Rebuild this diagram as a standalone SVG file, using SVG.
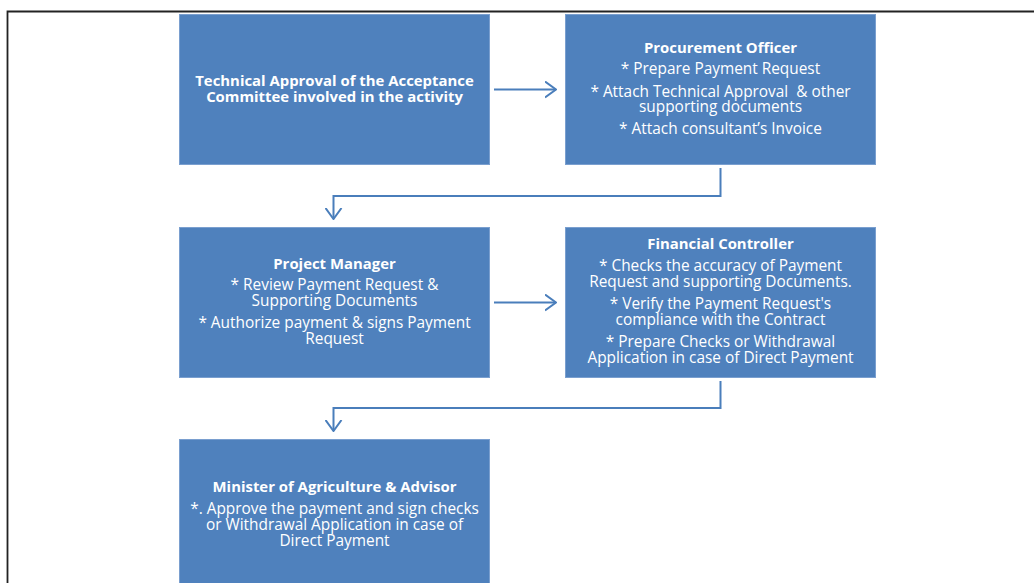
<svg xmlns="http://www.w3.org/2000/svg" width="1034" height="583" viewBox="0 0 1034 583">
<style>
.box{fill:#4f81bd;stroke:#7a9fcf;stroke-width:1}
text{font-family:"Open Sans","Liberation Sans",Arial,sans-serif;font-size:15.4px;fill:#ffffff;text-anchor:middle}
.b{font-weight:bold;font-size:14.9px}
.conn{fill:none;stroke:#4a7ebb;stroke-width:2}
</style>
<defs>
<marker id="arr" viewBox="0 0 12 18" refX="11" refY="9" markerWidth="12" markerHeight="18" markerUnits="userSpaceOnUse" orient="auto">
<path d="M0,1 L11,9 L0,17" fill="none" stroke="#4a7ebb" stroke-width="2"/>
</marker>
</defs>
<rect x="0" y="0" width="1034" height="583" fill="#ffffff"/>
<path d="M7.5,583 V11.5 H1034" fill="none" stroke="#222" stroke-width="1.8"/>
<g id="connectors">
<path class="conn" d="M494,89.5 H556" marker-end="url(#arr)"/>
<path class="conn" d="M720.5,168 V196 H333.5 V219" marker-end="url(#arr)"/>
<path class="conn" d="M494,302.5 H556" marker-end="url(#arr)"/>
<path class="conn" d="M720.5,381 V408 H333.5 V431" marker-end="url(#arr)"/>
</g>
<g id="node-technical">
<rect class="box" x="179.5" y="14.5" width="310" height="150"/>
<text class="b"><tspan x="334.5" y="86">Technical Approval of the Acceptance</tspan><tspan x="334.5" y="102">Committee involved in the activity</tspan></text>
</g>
<g id="node-procurement">
<rect class="box" x="565.5" y="14.5" width="310" height="150"/>
<text class="b" x="720.5" y="52.5">Procurement Officer</text>
<text xml:space="preserve"><tspan x="720.5" y="74">* Prepare Payment Request</tspan><tspan x="720.5" y="96.5">* Attach Technical Approval  &amp; other</tspan><tspan x="720.5" y="112">supporting documents</tspan><tspan x="720.5" y="134">* Attach consultant’s Invoice</tspan></text>
</g>
<g id="node-project-manager">
<rect class="box" x="179.5" y="227.5" width="310" height="150"/>
<text class="b" x="334.5" y="268.5">Project Manager</text>
<text><tspan x="334.5" y="290">* Review Payment Request &amp;</tspan><tspan x="334.5" y="306">Supporting Documents</tspan><tspan x="334.5" y="327.5">* Authorize payment &amp; signs Payment</tspan><tspan x="334.5" y="343.5">Request</tspan></text>
</g>
<g id="node-financial">
<rect class="box" x="565.5" y="227.5" width="310" height="150"/>
<text class="b" x="720.5" y="248.5">Financial Controller</text>
<text><tspan x="720.5" y="270.5">* Checks the accuracy of Payment</tspan><tspan x="720.5" y="287">Request and supporting Documents.</tspan><tspan x="720.5" y="308.5">* Verify the Payment Request's</tspan><tspan x="720.5" y="324.5">compliance with the Contract</tspan><tspan x="720.5" y="346.5">* Prepare Checks or Withdrawal</tspan><tspan x="720.5" y="362.5">Application in case of Direct Payment</tspan></text>
</g>
<g id="node-minister">
<rect class="box" x="179.5" y="439.5" width="310" height="160"/>
<text class="b" x="334.5" y="491.5">Minister of Agriculture &amp; Advisor</text>
<text><tspan x="334.5" y="513.5">*. Approve the payment and sign checks</tspan><tspan x="334.5" y="530">or Withdrawal Application in case of</tspan><tspan x="334.5" y="546">Direct Payment</tspan></text>
</g>
</svg>
